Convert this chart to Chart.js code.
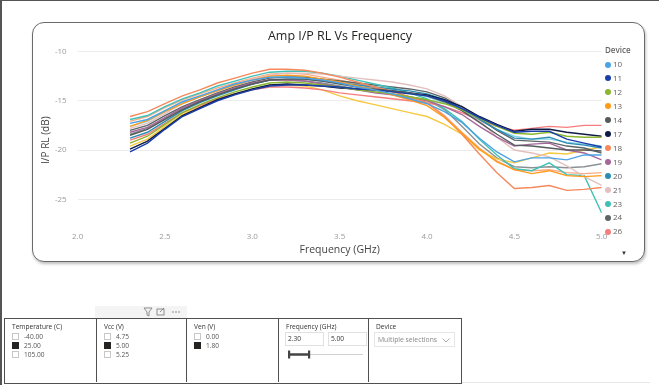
<!DOCTYPE html>
<html>
<head>
<meta charset="utf-8">
<script src="https://cdn.jsdelivr.net/npm/chart.js@4"></script>
<style>
  html, body { margin: 0; padding: 0; background: #fff; }
  body { width: 659px; height: 385px; position: relative; overflow: hidden; font-family: 'Open Sans', sans-serif; }
  .frame { position: absolute; left: 0; top: 0; width: 659px; height: 385px; border-top: 1px solid #555; border-left: 2px solid #555; box-sizing: border-box; }
  .card { position: absolute; left: 32px; top: 22px; width: 613px; height: 240px; box-sizing: border-box;
          border: 1px solid #6a6a6a; border-radius: 12px; box-shadow: 1px 2px 3px rgba(0,0,0,0.25); background: #fff; }
  #chart { position: absolute; left: 0; top: 0; }
  .title { position: absolute; left: 240px; width: 200px; top: 27px; text-align: center; font-size: 12.5px; color: #252423; }
  #legend { position: absolute; left: 605px; top: 44px; font-size: 8px; color: #605e5c; }
  #legend .head { font-weight: 600; color: #666; height: 13px; }
  #legend .item { position: absolute; left: 0; white-space: nowrap; }
  #legend .dot { display: inline-block; width: 6px; height: 6px; border-radius: 50%; margin-right: 2px; vertical-align: -0.5px; }
  .more { position: absolute; left: 621px; top: 249px; font-size: 6px; color: #333; }
  .slicers { position: absolute; left: 4px; top: 318px; width: 458px; height: 66px; box-sizing: border-box; border: 1.5px solid #505050; }
  .sl { position: absolute; top: 0; height: 63px; box-sizing: border-box; font-size: 6.6px; color: #444; }
  .sl + .sl { border-left: 1.5px solid #505050; }
  .sl .t { position: absolute; left: 7px; top: 3px; color: #333; }
  .row { position: absolute; left: 7px; white-space: nowrap; color: #555; }
  .cb { display: inline-block; width: 5px; height: 5px; border: 1px solid #c8c8c8; margin-right: 5px; vertical-align: -1px; }
  .cb.on { background: #252423; border-color: #252423; }
  .inp { position: absolute; top: 13px; height: 14px; width: 39px; box-sizing: border-box; border: 1px solid #e1e1e1; font-size: 6.6px; line-height: 12px; padding-left: 2px; color: #333; }
  .drop { position: absolute; left: 5px; top: 13px; width: 81px; height: 15px; box-sizing: border-box; border: 1px solid #e6e6e6; font-size: 6.8px; line-height: 13px; padding-left: 3px; color: #888; }
  .hdr { position: absolute; left: 95px; top: 306px; width: 92px; height: 12px; background: #f4f4f4; }
  .foot { position: absolute; left: 462px; top: 382px; width: 188px; height: 1px; background: #e8e8e8; }
</style>
</head>
<body>
<div class="frame"></div>
<div class="card"></div>
<canvas id="chart" width="659" height="385"></canvas>
<div class="title">Amp I/P RL Vs Frequency</div>
<div id="legend"><div class="head">Device</div></div>
<div class="more">&#9660;</div>

<div class="hdr">
  <svg width="92" height="12" style="position:absolute;left:0;top:0">
    <path d="M49 2 L57 2 L54 6 L54 10 L52 9 L52 6 Z" fill="none" stroke="#777" stroke-width="0.8"/>
    <rect x="62" y="3" width="7" height="6" fill="none" stroke="#777" stroke-width="0.8"/>
    <path d="M65 6 L69 2" stroke="#777" stroke-width="0.8"/>
    <circle cx="78" cy="6" r="0.7" fill="#666"/><circle cx="81" cy="6" r="0.7" fill="#666"/><circle cx="84" cy="6" r="0.7" fill="#666"/>
  </svg>
</div>

<div class="slicers">
  <div class="sl" style="left:0;width:91px">
    <div class="t">Temperature (C)</div>
    <div class="row" style="top:13px"><span class="cb"></span>-40.00</div>
    <div class="row" style="top:22px"><span class="cb on"></span>25.00</div>
    <div class="row" style="top:31px"><span class="cb"></span>105.00</div>
  </div>
  <div class="sl" style="left:91px;width:90px">
    <div class="t">Vcc (V)</div>
    <div class="row" style="top:13px"><span class="cb"></span>4.75</div>
    <div class="row" style="top:22px"><span class="cb on"></span>5.00</div>
    <div class="row" style="top:31px"><span class="cb"></span>5.25</div>
  </div>
  <div class="sl" style="left:181px;width:92px">
    <div class="t">Ven (V)</div>
    <div class="row" style="top:13px"><span class="cb"></span>0.00</div>
    <div class="row" style="top:22px"><span class="cb on"></span>1.80</div>
  </div>
  <div class="sl" style="left:273px;width:90px">
    <div class="t">Frequency (GHz)</div>
    <div class="inp" style="left:6px">2.30</div>
    <div class="inp" style="left:49px">5.00</div>
    <svg width="90" height="20" style="position:absolute;left:0;top:28px">
      <line x1="30" y1="7.5" x2="84" y2="7.5" stroke="#d0d0d0" stroke-width="1"/>
      <line x1="10" y1="7.5" x2="31" y2="7.5" stroke="#444" stroke-width="2.5"/>
      <rect x="9" y="3.5" width="2.2" height="8" fill="#444"/>
      <rect x="29" y="3.5" width="2.2" height="8" fill="#444"/>
    </svg>
  </div>
  <div class="sl" style="left:363px;width:92px">
    <div class="t">Device</div>
    <div class="drop">Multiple selections
      <svg width="8" height="5" style="position:absolute;right:4px;top:5px"><path d="M0.5 0.5 L4 4 L7.5 0.5" fill="none" stroke="#999" stroke-width="0.8"/></svg>
    </div>
  </div>
</div>
<div class="foot"></div>

<script>
// Frequency points (GHz) shared by every device trace
const freqGHz = [2.3, 2.4, 2.5, 2.6, 2.7, 2.8, 2.9, 3.0, 3.1, 3.2, 3.3, 3.4, 3.5, 3.6,
                 3.7, 3.8, 3.9, 4.0, 4.1, 4.2, 4.3, 4.4, 4.5, 4.6, 4.7, 4.8, 4.9, 5.0];

const xTicks = [2.0, 2.5, 3.0, 3.5, 4.0, 4.5, 5.0];
const yTicks = [-25, -20, -15, -10];

// I/P return loss (dB) per device
const rl10 = [-17.3,-16.9,-16.0,-15.1,-14.5,-13.9,-13.3, -12.9,-12.6,-12.6,-12.7,-12.9,-13.2,-13.6, -13.9,-14.3,-14.8,-15.3,-16.1,-17.2,-18.8, -20.2,-21.2,-20.8,-20.8,-21.0,-20.5,-20.5];
const rl11 = [-20.2,-19.3,-17.9,-16.6,-15.8,-15.0,-14.4, -13.9,-13.5,-13.4,-13.4,-13.5,-13.6,-13.8, -13.9,-14.1,-14.3,-14.5,-15.0,-15.8,-16.7, -17.5,-18.2,-18.1,-18.1,-18.9,-19.3,-19.7];
const rl12 = [-19.3,-18.6,-17.4,-16.2,-15.4,-14.7,-14.1, -13.6,-13.2,-13.1,-13.2,-13.4,-13.6,-13.9, -14.1,-14.3,-14.6,-14.9,-15.3,-15.9,-16.8, -17.6,-18.3,-18.4,-18.2,-18.6,-18.7,-18.7];
const rl13 = [-17.6,-17.0,-16.1,-15.3,-14.6,-14.0,-13.4, -12.9,-12.5,-12.4,-12.5,-12.8,-13.1,-13.5, -13.9,-14.4,-14.9,-15.5,-16.7,-18.3,-19.9, -21.2,-22.0,-22.4,-22.1,-22.6,-22.7,-22.6];
const rl14 = [-18.5,-17.9,-16.9,-15.9,-15.1,-14.4,-13.8, -13.3,-12.9,-12.8,-12.8,-13.0,-13.3,-13.6, -13.8,-14.0,-14.2,-14.5,-15.1,-16.0,-17.2, -18.4,-19.5,-19.6,-19.8,-20.0,-20.0,-20.1];
const rl17 = [-19.9,-19.1,-17.8,-16.5,-15.7,-14.9,-14.3, -13.8,-13.4,-13.3,-13.4,-13.5,-13.7,-13.8, -13.9,-14.0,-14.2,-14.4,-14.9,-15.6,-16.6, -17.4,-18.1,-17.9,-17.9,-18.2,-18.4,-18.6];
const rl18 = [-16.6,-16.1,-15.3,-14.5,-13.9,-13.2,-12.7, -12.2,-11.8,-11.8,-11.9,-12.2,-12.6,-13.1, -13.6,-14.0,-14.6,-15.2,-16.6,-18.4,-20.4, -22.3,-23.9,-23.8,-23.6,-24.1,-24.0,-23.8];
const rl19 = [-18.2,-17.7,-16.7,-15.7,-15.0,-14.3,-13.7, -13.2,-12.9,-12.9,-13.0,-13.3,-13.6,-13.9, -14.2,-14.4,-14.7,-15.0,-15.6,-16.4,-17.6, -18.7,-19.6,-19.4,-19.3,-20.0,-20.3,-21.0];
const rl20 = [-18.8,-18.2,-17.1,-16.0,-15.2,-14.5,-13.9, -13.3,-12.9,-12.8,-12.8,-13.0,-13.2,-13.4, -13.6,-13.8,-14.0,-14.3,-14.9,-15.8,-16.9, -17.9,-18.8,-18.9,-18.7,-19.3,-19.5,-19.8];
const rl21 = [-17.8,-17.3,-16.3,-15.3,-14.6,-13.9,-13.3, -12.8,-12.4,-12.2,-12.2,-12.3,-12.5,-12.7, -12.9,-13.1,-13.4,-13.8,-14.5,-15.6,-17.0, -18.7,-20.0,-20.3,-20.7,-21.6,-22.7,-23.6];
const rl23 = [-16.9,-16.5,-15.6,-14.8,-14.2,-13.5,-13.0, -12.5,-12.1,-12.0,-12.0,-12.2,-12.5,-12.9, -13.3,-13.7,-14.2,-14.8,-15.8,-17.1,-18.9, -20.5,-21.9,-22.1,-21.3,-22.5,-22.6,-26.4];
const rl24 = [-18.0,-17.5,-16.5,-15.6,-14.9,-14.2,-13.6, -13.1,-12.7,-12.6,-12.6,-12.8,-13.0,-13.2, -13.4,-13.6,-13.8,-14.1,-14.7,-15.6,-16.8, -18.0,-19.0,-19.1,-19.2,-19.6,-19.8,-20.3];
const rl26 = [-19.0,-18.4,-17.3,-16.2,-15.5,-14.8,-14.3, -13.9,-13.6,-13.6,-13.7,-13.9,-14.2,-14.4, -14.6,-14.8,-15.0,-15.2,-15.6,-16.2,-17.0, -17.6,-18.0,-17.8,-17.6,-17.7,-17.5,-17.5];
// devices below the visible part of the legend (scrolled off)
const rl27 = [-19.6,-18.9,-17.6,-16.4,-15.6,-14.9,-14.3, -13.8,-13.4,-13.4,-13.5,-13.9,-14.5,-15.0, -15.4,-15.8,-16.2,-16.6,-17.4,-18.4,-20.0, -20.9,-21.3,-20.8,-20.3,-20.4,-20.0,-19.7];
const rl28 = [-18.4,-17.8,-16.8,-15.8,-15.1,-14.4,-13.8, -13.3,-12.9,-12.9,-13.0,-13.2,-13.5,-13.8, -14.1,-14.3,-14.6,-14.9,-15.9,-17.6,-19.4, -20.8,-21.7,-21.8,-21.7,-21.8,-21.7,-21.4];
const rl29 = [-17.1,-16.6,-15.7,-14.9,-14.3,-13.7,-13.2, -12.7,-12.3,-12.2,-12.3,-12.6,-12.9,-13.3, -13.7,-14.1,-14.6,-15.2,-16.5,-18.2,-19.8, -21.1,-22.0,-22.1,-22.0,-22.3,-22.4,-22.3];
const rl30 = [-17.6,-17.1,-16.1,-15.2,-14.6,-14.0,-13.4, -12.9,-12.6,-12.5,-12.6,-12.8,-13.0,-13.3, -13.6,-13.9,-14.2,-14.6,-15.2,-16.0,-17.0, -17.9,-18.6,-18.9,-18.9,-19.2,-19.4,-19.6];

const devices = ['10','11','12','13','14','17','18','19','20','21','23','24','26','27','28','29','30'];
const series  = [rl10, rl11, rl12, rl13, rl14, rl17, rl18, rl19, rl20, rl21, rl23, rl24, rl26, rl27, rl28, rl29, rl30];
const colors  = ['#4BA3E3','#1B3FA8','#8BB62F','#FF9A1A','#555A5C','#0D1B45','#F5895D','#A5679A',
                 '#2B8DB2','#E2C0C0','#3FC2B5','#5D6567','#F77D7D','#F5C944','#8A9293','#FBAA88','#8DD3EA'];
const legendShown = 13;

const datasets = devices.map((d, i) => ({
    label: d,
    data: freqGHz.map((f, j) => ({ x: f, y: series[i][j] })),
    borderColor: colors[i],
    backgroundColor: colors[i],
    borderWidth: 1.4,
    pointRadius: 0,
    tension: 0
}));

new Chart(document.getElementById('chart'), {
    type: 'line',
    data: { datasets: datasets },
    options: {
        responsive: false,
        animation: false,
        layout: { padding: { left: 32, right: 57.3, top: 51.5, bottom: 128.7 } },
        plugins: { legend: { display: false }, tooltip: { enabled: false } },
        scales: {
            x: {
                type: 'linear', min: 2, max: 5,
                afterFit: s => { s.height = 27.5; },
                afterBuildTicks: s => { s.ticks = xTicks.map(v => ({ value: v })); },
                ticks: { padding: 3, color: '#9a9a9a', font: { family: "'Open Sans'", size: 8 },
                         callback: v => v.toFixed(1), maxRotation: 0 },
                grid: { display: false, drawTicks: false },
                border: { display: false },
                title: { display: true, text: 'Frequency (GHz)', color: '#444', padding: 0,
                         font: { family: "'Open Sans'", size: 10.5 } }
            },
            y: {
                type: 'linear', min: -28, max: -10,
                afterFit: s => { s.width = 45.6; },
                afterBuildTicks: s => { s.ticks = yTicks.map(v => ({ value: v })); },
                ticks: { padding: 11, color: '#9a9a9a', font: { family: "'Open Sans'", size: 8 } },
                grid: { color: '#ececec', lineWidth: 1, drawTicks: false },
                border: { display: false },
                title: { display: true, text: 'I/P RL (dB)', color: '#444', padding: { top: 8, bottom: 0 },
                         font: { family: "'Open Sans'", size: 10 } }
            }
        }
    }
});

// legend (only the part that fits in the visual is shown, as in the report)
const legend = document.getElementById('legend');
devices.slice(0, legendShown).forEach((d, i) => {
    const el = document.createElement('div');
    el.className = 'item';
    el.style.top = (14 + i * 13.95) + 'px';
    el.innerHTML = '<span class="dot" style="background:' + colors[i] + '"></span>' + d;
    legend.appendChild(el);
});
</script>
</body>
</html>
